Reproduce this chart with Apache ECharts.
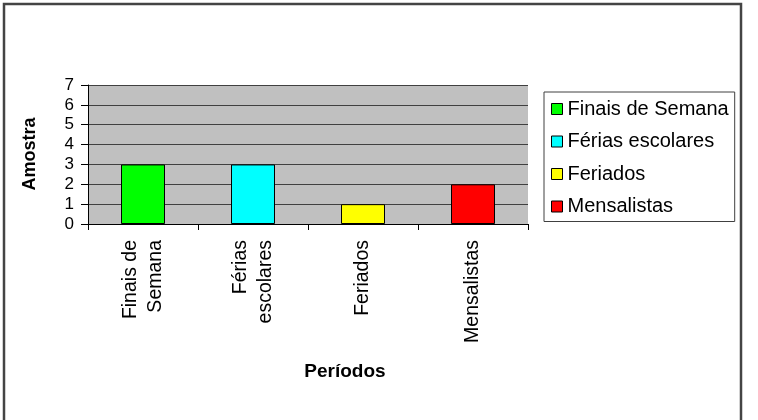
<!DOCTYPE html>
<html>
<head>
<meta charset="utf-8">
<script src="https://cdn.jsdelivr.net/npm/echarts@6/dist/echarts.min.js"></script>
<style>html,body{margin:0;padding:0;background:#fff;}#c{width:758px;height:420px;}</style>
</head>
<body>
<div id="c"></div>
<script>
const categories = ['Finais de\nSemana', 'Férias\nescolares', 'Feriados', 'Mensalistas'];
const seriesNames = ['Finais de Semana', 'Férias escolares', 'Feriados', 'Mensalistas'];
const values = [3, 3, 1, 2];
const colors = ['#00ff00', '#00ffff', '#ffff00', '#ff0000'];
const yTicks = [0, 1, 2, 3, 4, 5, 6, 7];
const yTitle = 'Amostra';
const xTitle = 'Períodos';

const FONT = 'Liberation Sans, Arial, sans-serif';
const chart = echarts.init(document.getElementById('c'), null, {renderer: 'canvas'});

const series = seriesNames.map((name, i) => ({
  name: name,
  type: 'bar',
  stack: 'all',
  barWidth: 44,
  data: categories.map((c, j) => (j === i ? values[i] : '-')),
  itemStyle: {color: colors[i], borderColor: '#000', borderWidth: 1},
  emphasis: {disabled: true}
}));

chart.setOption({
  animation: false,
  backgroundColor: '#ffffff',
  textStyle: {fontFamily: FONT},
  grid: {left: 88, top: 85, width: 440, height: 139, show: true, backgroundColor: '#c0c0c0', borderWidth: 0},
  xAxis: {
    type: 'category',
    data: categories,
    axisLine: {lineStyle: {color: '#000', width: 1}},
    axisTick: {show: true, length: 6, lineStyle: {color: '#000'}},
    axisLabel: {rotate: 90, margin: 16, fontSize: 19.5, lineHeight: 25, color: '#000', fontFamily: FONT},
    splitLine: {show: false}
  },
  yAxis: {
    type: 'value',
    min: yTicks[0],
    max: yTicks[yTicks.length - 1],
    interval: 1,
    axisLine: {show: true, lineStyle: {color: '#000', width: 1}},
    axisTick: {show: true, length: 7, lineStyle: {color: '#000'}},
    axisLabel: {fontSize: 17, color: '#000', margin: 14, fontFamily: FONT},
    splitLine: {show: true, lineStyle: {color: '#404040', width: 1}}
  },
  legend: {
    orient: 'vertical',
    left: 544,
    top: 92,
    data: seriesNames,
    icon: 'rect',
    itemWidth: 11,
    itemHeight: 11,
    itemGap: 12.5,
    padding: [7, 6, 5, 7],
    borderColor: '#404040',
    borderWidth: 1,
    backgroundColor: '#fff',
    textStyle: {fontSize: 20, color: '#000', fontFamily: FONT},
    itemStyle: {borderColor: '#000', borderWidth: 1},
    selectedMode: false
  },
  graphic: [
    {type: 'rect', shape: {x: 4, y: 4, width: 737, height: 460}, style: {fill: 'none', stroke: '#444', lineWidth: 2.5}, silent: true},
    {type: 'text', x: 30, y: 154, rotation: Math.PI / 2, style: {text: yTitle, font: 'bold 18px ' + FONT, fill: '#000', align: 'center', verticalAlign: 'middle'}},
    {type: 'text', x: 345, y: 372, style: {text: xTitle, font: 'bold 19px ' + FONT, fill: '#000', align: 'center', verticalAlign: 'middle'}}
  ],
  series: series
});
</script>
</body>
</html>
